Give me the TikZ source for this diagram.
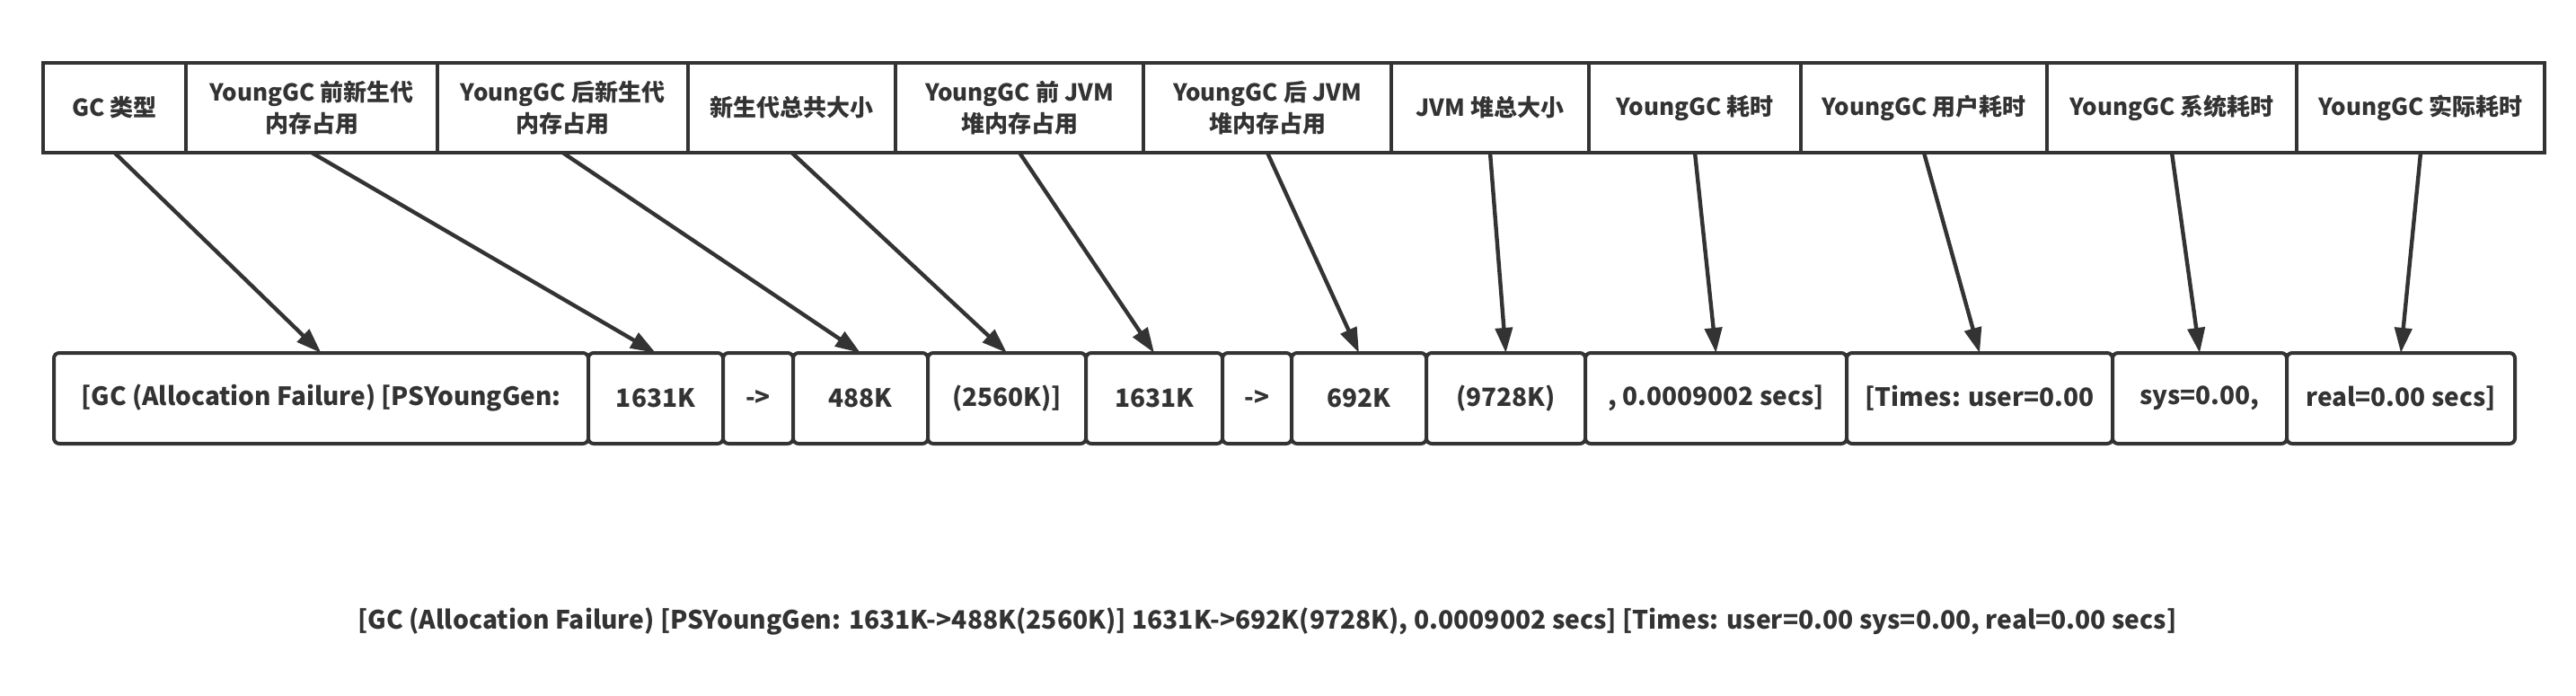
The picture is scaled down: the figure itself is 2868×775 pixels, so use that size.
\documentclass[tikz,border=0pt]{standalone}
\usepackage{fontspec}
\setmainfont{Noto Sans CJK SC}
\usetikzlibrary{arrows.meta}
\definecolor{ink}{HTML}{333333}
\tikzset{
  topbox/.style={draw=ink, line width=2.3pt, fill=white, inner sep=0pt, outer sep=0pt,
    minimum height=50pt, align=center, text=ink, font=\fontsize{13}{17.5}\selectfont\bfseries},
  botbox/.style={draw=ink, line width=2pt, rounded corners=3pt, fill=white, inner sep=0pt, outer sep=0pt,
    minimum height=50.5pt, align=center, text=ink, font=\fontsize{14}{17}\selectfont\bfseries},
  link/.style={draw=ink, line width=2.2pt, -{Triangle[length=14pt,width=9.5pt]}},
  logline/.style={text=ink, inner sep=0pt, font=\fontsize{14.1}{16}\selectfont\bfseries}
}
\begin{document}
\begin{tikzpicture}[x=0.5pt,y=-0.5pt]
\useasboundingbox[fill=white] (0,0) rectangle (2868,775);
% top row
\node[topbox, minimum width=79.5pt] (t1) at (127.5,120) {GC 类型};
\node[topbox, minimum width=140pt] (t2) at (347,120) {YoungGC 前新生代\\内存占用};
\node[topbox, minimum width=139.5pt] (t3) at (626.5,120) {YoungGC 后新生代\\内存占用};
\node[topbox, minimum width=115.5pt] (t4) at (881.5,120) {新生代总共大小};
\node[topbox, minimum width=138pt] (t5) at (1135,120) {YoungGC 前 JVM\\堆内存占用};
\node[topbox, minimum width=138pt] (t6) at (1411,120) {YoungGC 后 JVM\\堆内存占用};
\node[topbox, minimum width=110pt] (t7) at (1659,120) {JVM 堆总大小};
\node[topbox, minimum width=118pt] (t8) at (1887,120) {YoungGC 耗时};
\node[topbox, minimum width=137pt] (t9) at (2142,120) {YoungGC 用户耗时};
\node[topbox, minimum width=139pt] (t10) at (2418,120) {YoungGC 系统耗时};
\node[topbox, minimum width=138pt] (t11) at (2695,120) {YoungGC 实际耗时};
% bottom row
\node[botbox, minimum width=297.5pt] (b1) at (357.5,443.5) {[GC (Allocation Failure) [PSYoungGen:};
\node[botbox, minimum width=75pt] (b2) at (730,443.5) {1631K};
\node[botbox, minimum width=39pt] (b3) at (844,443.5) {->};
\node[botbox, minimum width=75pt] (b4) at (958,443.5) {488K};
\node[botbox, minimum width=88pt] (b5) at (1121,443.5) {(2560K)]};
\node[botbox, minimum width=76pt] (b6) at (1285,443.5) {1631K};
\node[botbox, minimum width=38.5pt] (b7) at (1399.5,443.5) {->};
\node[botbox, minimum width=75pt] (b8) at (1513,443.5) {692K};
\node[botbox, minimum width=88.5pt] (b9) at (1676.5,443.5) {(9728K)};
\node[botbox, minimum width=145.5pt] (b10) at (1910.5,443.5) {, 0.0009002 secs]};
\node[botbox, minimum width=148pt] (b11) at (2204,443.5) {[Times: user=0.00};
\node[botbox, minimum width=97pt] (b12) at (2449,443.5) {sys=0.00,};
\node[botbox, minimum width=127pt] (b13) at (2673,443.5) {real=0.00 secs]};
% connectors
\draw[link] (t1.south) -- (b1.north);
\draw[link] (t2.south) -- (b2.north);
\draw[link] (t3.south) -- (b4.north);
\draw[link] (t4.south) -- (b5.north);
\draw[link] (t5.south) -- (b6.north);
\draw[link] (t6.south) -- (b8.north);
\draw[link] (t7.south) -- (b9.north);
\draw[link] (t8.south) -- (b10.north);
\draw[link] (t9.south) -- (b11.north);
\draw[link] (t10.south) -- (b12.north);
\draw[link] (t11.south) -- (b13.north);
% full log line
\node[logline] (log) at (1411,692) {[GC (Allocation Failure) [PSYoungGen: 1631K->488K(2560K)] 1631K->692K(9728K), 0.0009002 secs] [Times: user=0.00 sys=0.00, real=0.00 secs]};
\end{tikzpicture}
\end{document}
